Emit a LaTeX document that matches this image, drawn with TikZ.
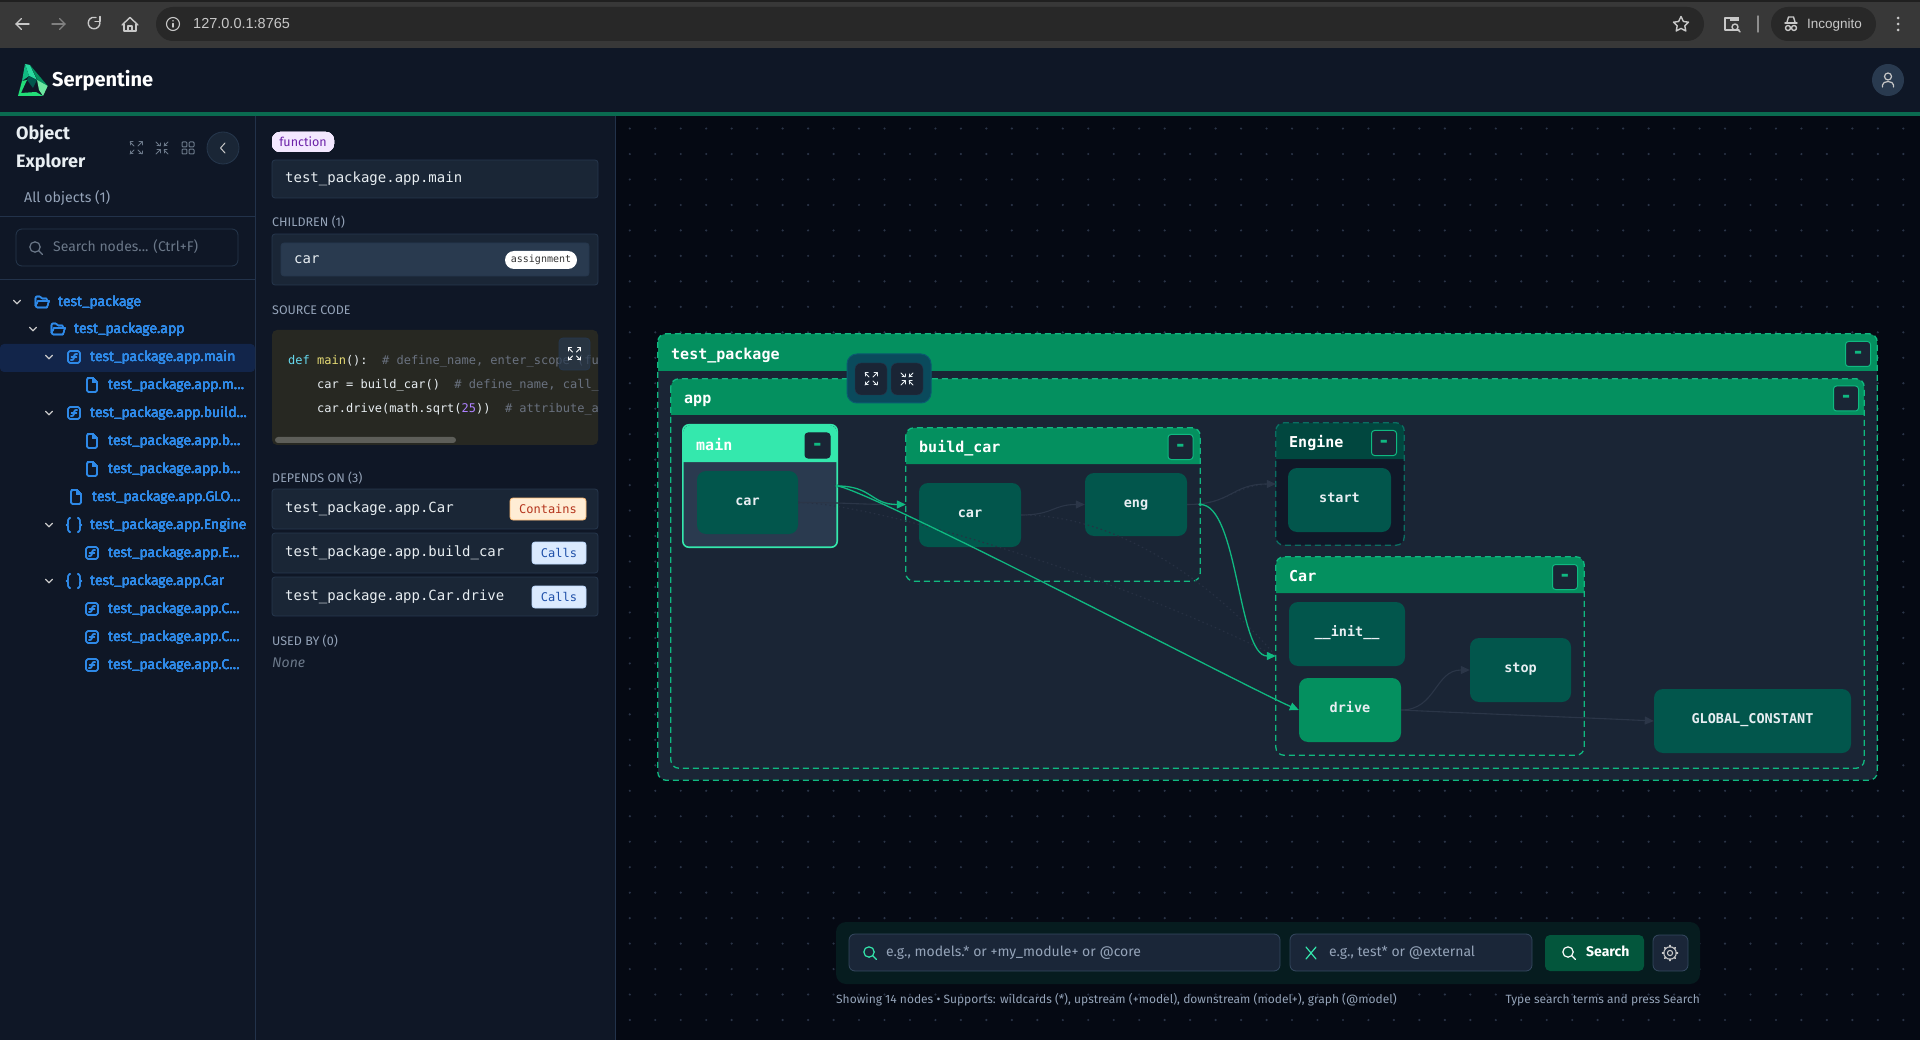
\documentclass[tikz,border=0pt]{standalone}
\usepackage{xcolor}
\usepackage{fontspec}
\usepackage{tikz}
\usetikzlibrary{positioning,calc}
\usetikzlibrary{arrows.meta}
\setmainfont{Fira Sans}
\newfontfamily\chromefont{Liberation Sans}
\newfontfamily\codefont{DejaVu Sans Mono}
\newcommand{\uisize}[1]{\fontsize{#1}{#1}\selectfont}
\definecolor{chromeBar}{HTML}{383838}
\definecolor{chromePill}{HTML}{282828}
\definecolor{chromeInk}{HTML}{C8C8C8}
\definecolor{panelBg}{HTML}{0F1726}
\definecolor{panelLine}{HTML}{22324A}
\definecolor{canvasBg}{HTML}{050913}
\definecolor{canvasDot}{HTML}{2A3447}
\definecolor{strongGreen}{HTML}{0A6B50}
\definecolor{hdrGreen}{HTML}{04905F}
\definecolor{hdrDark}{HTML}{01473F}
\definecolor{hdrLight}{HTML}{34E8AD}
\definecolor{edgeGreen}{HTML}{10B981}
\definecolor{edgeDark}{HTML}{2B3648}
\definecolor{edgeFaint}{HTML}{273143}
\definecolor{edgeDeep}{HTML}{0A6F62}
\definecolor{bodySlate}{HTML}{1A2535}
\definecolor{bodyDeep}{HTML}{101828}
\definecolor{bodyMain}{HTML}{2A3A4F}
\definecolor{leafTeal}{HTML}{02564C}
\definecolor{boxFill}{HTML}{1A2636}
\definecolor{boxLine}{HTML}{26374D}
\definecolor{boxInner}{HTML}{293A4F}
\definecolor{muted}{HTML}{94A3B8}
\definecolor{faint}{HTML}{6B7889}
\definecolor{treeBlue}{HTML}{2F8AE8}
\definecolor{rowSel}{HTML}{12254A}
\definecolor{codeBg}{HTML}{272822}
\definecolor{codeCyan}{HTML}{66D9EF}
\definecolor{codeYellow}{HTML}{E6DB74}
\definecolor{codeGray}{HTML}{6A7280}
\definecolor{codePurple}{HTML}{AE81FF}
\definecolor{inkLight}{HTML}{E8EEF2}
\definecolor{barBg}{HTML}{061C1F}
\definecolor{inputBg}{HTML}{1A2638}
\definecolor{inputLine}{HTML}{354860}
\definecolor{chipPurple}{HTML}{F3E8FF}
\definecolor{inkPurple}{HTML}{6B21A8}
\definecolor{chipOrange}{HTML}{FFEDD5}
\definecolor{lineOrange}{HTML}{FDBA74}
\definecolor{inkOrange}{HTML}{B4341C}
\definecolor{chipBlue}{HTML}{DBEAFE}
\definecolor{lineBlue}{HTML}{BFDBFE}
\definecolor{inkBlue}{HTML}{1E4FA8}
\definecolor{toolTeal}{HTML}{0A4A5C}
\definecolor{toolLine}{HTML}{0B5A70}
\definecolor{searchGreen}{HTML}{03563C}
\definecolor{logoBright}{HTML}{22DD77}
\definecolor{logoLime}{HTML}{6EE7A0}
\tikzstyle{txt}       =[inner sep=0,anchor=base west]
\tikzstyle{uiText}    =[txt,yshift=-5.2pt,text=muted,font=\uisize{14.2}]
\tikzstyle{hintText}  =[txt,yshift=-3.4pt,text=muted,font=\uisize{14}]
\tikzstyle{capsText}  =[txt,yshift=-5.2pt,text=muted,font=\uisize{12.5}]
\tikzstyle{statusText}=[txt,yshift=-3pt,text=muted,font=\uisize{12}]
\tikzstyle{monoText}  =[txt,yshift=-4.6pt,text=inkLight,font=\codefont\uisize{14}]
\tikzstyle{codeText}  =[txt,yshift=-4.1pt,text=inkLight,font=\codefont\uisize{12}]
\tikzstyle{treeText}  =[txt,yshift=-4.7pt,text=treeBlue,font=\uisize{14}]
\tikzstyle{infoBox}   =[fill=boxFill,draw=boxLine,line width=.8pt,rounded corners=3pt]
\tikzstyle{chip}      =[inner sep=0,rounded corners=3pt,font=\codefont\uisize{12},line width=.8pt]
\tikzstyle{leaf}      =[inner sep=0,fill=leafTeal,rounded corners=9pt,text=inkLight,text height=8pt,text depth=3pt,font=\codefont\bfseries\uisize{13.5}]
\tikzstyle{clusterTitle}=[txt,yshift=-6.8pt,text=white,font=\codefont\bfseries\uisize{15}]
\tikzstyle{clusterDash} =[draw=edgeGreen,line width=1.3pt,dash pattern=on 6pt off 4pt,rounded corners=8pt]
\tikzstyle{clusterSolid}=[draw=hdrLight,line width=1.6pt,rounded corners=6pt]
\tikzstyle{clusterDeep} =[draw=edgeDeep,line width=1.3pt,dash pattern=on 6pt off 4pt,rounded corners=8pt]
\tikzstyle{minusBtn}  =[inner sep=0,minimum width=25pt,minimum height=25pt,rounded corners=3pt,fill=bodySlate,draw=edgeGreen,line width=1pt,
                        text=edgeGreen,text height=9pt,text depth=0pt,font=\codefont\bfseries\uisize{20}]
\tikzstyle{edgeOn}    =[draw=edgeGreen,line width=1.3pt,-{Triangle[length=9pt,width=8pt]}]
\tikzstyle{edgeOff}   =[draw=edgeDark,line width=1.1pt,-{Triangle[length=9pt,width=8pt]}]
\tikzstyle{edgeDot}   =[draw=edgeFaint,line width=1.1pt,dash pattern=on 1.5pt off 3pt]
\tikzstyle{icon}      =[line width=1.2pt,line cap=round,line join=round]
\tikzstyle{handleDot} =[circle,fill=edgeGreen,inner sep=0,minimum size=3.6pt]
% Small icons, all centred on the given point
\newcommand{\iconExpand}[3]{\begin{scope}[shift={(#1,#2)},icon,draw=#3,line width=1pt]
  \foreach \sx/\sy in {-1/-1,1/-1,-1/1,1/1} {
    \draw (\sx*2,\sy*2)--(\sx*6,\sy*6);
    \draw (\sx*3,\sy*6)--(\sx*6,\sy*6)--(\sx*6,\sy*3);
  }\end{scope}}
\newcommand{\iconCollapse}[3]{\begin{scope}[shift={(#1,#2)},icon,draw=#3,line width=1pt]
  \foreach \sx/\sy in {-1/-1,1/-1,-1/1,1/1} {
    \draw (\sx*2,\sy*2)--(\sx*6,\sy*6);
    \draw (\sx*5,\sy*2)--(\sx*2,\sy*2)--(\sx*2,\sy*5);
  }\end{scope}}
\newcommand{\iconSearch}[3]{\begin{scope}[shift={(#1,#2)},icon,draw=#3]
  \draw (-1,-1) circle (5.2);
  \draw (2.8,2.8)--(6.5,6.5);\end{scope}}
\newcommand{\iconFolder}[2]{\begin{scope}[shift={(#1,#2)},icon,draw=treeBlue]
  \draw (-5,5.5) -- (-6.5,4) -- (-6.5,-4) -- (-5.5,-5.5) -- (-2,-5.5) -- (0,-3.5) -- (4.5,-3.5) -- (5,-1);
  \draw (-5,5.5) -- (5,5.5) -- (7,-1) -- (-4,-1) -- (-6.5,4);\end{scope}}
\newcommand{\iconFile}[2]{\begin{scope}[shift={(#1,#2)},icon,draw=treeBlue]
  \draw (-1,-7) -- (-4.5,-7) [rounded corners=1.5pt] -- (-5,-7) -- (-5,7) -- (5,7) -- (5,-3) [sharp corners] -- (1,-7) -- (-1,-7);
  \draw (1,-7) -- (1,-3) -- (5,-3);\end{scope}}
\newcommand{\iconFunc}[2]{\begin{scope}[shift={(#1,#2)},icon,draw=treeBlue]
  \draw[rounded corners=2.5pt] (-6,-6) rectangle (6,6);
  \draw (3,-3) .. controls (0.5,-3.5) and (0.2,-2) .. (0,0) .. controls (-0.2,2) and (-0.5,3.5) .. (-3,3);
  \draw (-2.5,0)--(2.5,0);\end{scope}}
\newcommand{\iconBraces}[2]{\begin{scope}[shift={(#1,#2)},icon,draw=treeBlue]
  \draw (-4,-7) .. controls (-6.5,-7) and (-5.5,-3) .. (-6,-1) -- (-7.5,0) -- (-6,1) .. controls (-5.5,3) and (-6.5,7) .. (-4,7);
  \draw (4,-7) .. controls (6.5,-7) and (5.5,-3) .. (6,-1) -- (7.5,0) -- (6,1) .. controls (5.5,3) and (6.5,7) .. (4,7);\end{scope}}
\newcommand{\iconChevron}[2]{\draw[icon,draw=chromeInk] (#1-3.5,#2-1.8)--(#1,#2+1.8)--(#1+3.5,#2-1.8);}
\begin{document}
\begin{tikzpicture}[x=1pt,y=-1pt]
  \useasboundingbox (0,0) rectangle (1920,1040);
  % Page
  \fill[canvasBg] (0,0) rectangle (1920,1040);
  \foreach \i in {0,...,50}
    \foreach \j in {0,...,35}
      \fill[canvasDot] ({629.8+25.47*\i},{1020-25.47*\j}) circle (1.2);
  % Browser bar
  \fill[chromeBar] (0,0) rectangle (1920,48);
  \fill[chromePill!80!black] (0,0) rectangle (1920,2);
  \fill[chromePill,rounded corners=17pt] (156,7) rectangle (1704,41);
  \fill[chromePill,rounded corners=17pt] (1771,7) rectangle (1876,41);
  \begin{scope}[icon,draw=chromeInk,line width=1.4pt]
    \draw (29,24)--(16,24); \draw (21.5,18.5)--(16,24)--(21.5,29.5);
    \draw[draw=chromeInk!50!chromeBar] (52,24)--(65,24); \draw[draw=chromeInk!50!chromeBar] (59.5,18.5)--(65,24)--(59.5,29.5);
    \draw (99.5,21) arc (-20:290:5.8);
    \draw (100,16.5)--(100,21.5)--(95,21.5);
    \draw (124,24)--(124,31)--(136,31)--(136,24); \draw (122,25)--(130,17.5)--(138,25);
    \draw (128,31)--(128,26)--(132,26)--(132,31);
    \draw[line width=1.1pt] (173,24) circle (6.5); \draw (173,23.5)--(173,27); \draw (173,20.8)--(173,20.9);
    \draw (1681,16.5)--(1683.4,21.5)--(1688.5,22.2)--(1684.8,25.8)--(1685.8,31)--(1681,28.4)--(1676.2,31)--(1677.2,25.8)--(1673.5,22.2)--(1678.6,21.5)--cycle;
    \draw (1739,30)--(1725,30)--(1725,18)--(1730,18);
    \fill[chromeInk] (1730,17) rectangle (1739,21);
    \draw (1735,27) circle (3); \draw (1737.5,29.5)--(1740,32);
    \draw[draw=chromeInk!60!chromeBar] (1758,16)--(1758,32);
    \draw (1785,23)--(1797,23); \draw (1787,22)--(1788.5,17)--(1793.5,17)--(1795,22);
    \draw (1788,28) circle (2.5); \draw (1794,28) circle (2.5);
  \end{scope}
  \foreach \ky in {18,24,30}
    \fill[chromeInk] (1898,\ky) circle (1.5);
  \node [txt,yshift=-4.2pt,text=chromeInk,font=\chromefont\uisize{14.5}] (urlText) at (193,24) {127.0.0.1:8765};
  \node [txt,yshift=-3.6pt,text=chromeInk,font=\chromefont\uisize{13.5}] (incognitoText) at (1807,24.5) {Incognito};
  % App header
  \fill[panelBg] (0,48) rectangle (1920,112);
  \fill[strongGreen] (0,112) rectangle (1920,116);
  \fill[hdrLight!70!edgeGreen] (25,64)--(30,65)--(37,80)--(29,76)--cycle;
  \fill[edgeGreen] (25,64)--(29,76)--(22,81)--cycle;
  \fill[leafTeal] (29,76)--(37,80)--(33,88)--(27,80)--cycle;
  \fill[hdrGreen] (30,65)--(47.7,86)--(39,83)--cycle;
  \fill[logoLime] (37,80)--(47.7,86)--(43,96)--(39,90)--cycle;
  \fill[logoBright] (22,81)--(27,80)--(21,93)--(36,92)--(43,96)--(18,96)--cycle;
  \node [txt,yshift=-7pt,text=white,font=\bfseries\uisize{20}] (brandText) at (52,80) {Serpentine};
  \fill[boxInner] (1888,80) circle (16);
  \draw[icon,draw=chromeInk] (1888,76.5) circle (3.5);
  \draw[icon,draw=chromeInk] (1882.5,87) -- (1882.5,85) arc (180:360:5.5 and 3.5) -- (1893.5,87);
  % Left panel
  \fill[panelBg] (0,116) rectangle (255,1040);
  \fill[panelBg] (255,116) rectangle (615,1040);
  \draw[panelLine,line width=.8pt] (255,116)--(255,1040);
  \draw[panelLine,line width=.8pt] (615,116)--(615,1040);
  \draw[panelLine,line width=.8pt] (0,216)--(255,216);
  \draw[panelLine,line width=.8pt] (0,279)--(255,279);
  \node [txt,yshift=-5.9pt,text=inkLight,font=\bfseries\uisize{18}] (objectTitle) at (16,134) {Object};
  \node [txt,yshift=-5.9pt,text=inkLight,font=\bfseries\uisize{18}] (explorerTitle) at (16,162) {Explorer};
  \iconExpand{136}{148}{faint}
  \iconCollapse{162}{148}{faint}
  \foreach \sx in {-1,1}
    \foreach \sy in {-1,1}
      \draw[faint,line width=1pt,rounded corners=.8pt] ({188+\sx*3.6-2.4},{148+\sy*3.6-2.4}) rectangle ++(4.8,4.8);
  \draw[fill=boxFill,draw=boxLine,line width=.8pt] (223,148) circle (16);
  \draw[icon,draw=chromeInk,line width=1pt] (225,143)--(220.5,148)--(225,153);
  \node [uiText] (allObjects) at (24,197) {All objects (1)};
  \draw[infoBox,rounded corners=6pt,fill=panelBg] (16,229) rectangle (238,266);
  \iconSearch{36}{248}{faint}
  \node [hintText,text=faint] (searchHint) at (53,248) {Search nodes... (Ctrl+F)};
  % Tree
  \fill[rowSel,rounded corners=4pt] (0,344) rectangle (255,372);
  \foreach \cx/\cy in {17/302,33/329,49/357,49/413,49/525,49/581}
    \iconChevron{\cx}{\cy}
  \foreach \ry/\ix/\tx/\kind/\lbl in {
      302/42/58/Folder/test\_package,
      329/58/74/Folder/test\_package.app,
      357/74/90/Func/test\_package.app.main,
      385/92/108/File/test\_package.app.m…,
      413/74/90/Func/test\_package.app.build…,
      441/92/108/File/test\_package.app.b…,
      469/92/108/File/test\_package.app.b…,
      497/76/92/File/test\_package.app.GLO…,
      525/74/90/Braces/test\_package.app.Engine,
      553/92/108/Func/test\_package.app.E…,
      581/74/90/Braces/test\_package.app.Car,
      609/92/108/Func/test\_package.app.C…,
      637/92/108/Func/test\_package.app.C…,
      665/92/108/Func/test\_package.app.C…} {
    \csname icon\kind\endcsname{\ix}{\ry}
    \node [treeText] (treeRow\ry) at (\tx,\ry) {\lbl};
  }
  % Details panel
  \node [chip,fill=chipPurple,text=inkPurple,font=\uisize{12.5},rounded corners=8pt,minimum width=62pt,minimum height=20pt] (kindChip) at (303,142) {function};
  \draw[infoBox] (272,160) rectangle (598,198);
  \node [monoText] (selName) at (285,178) {test\_package.app.main};
  \node [capsText] (childrenHead) at (272,221) {CHILDREN (1)};
  \draw[infoBox] (272,234) rectangle (598,285);
  \draw[infoBox,fill=boxInner] (281,243) rectangle (589,276);
  \node [monoText] (childName) at (294,259) {car};
  \node [chip,fill=white,text=black!80,font=\codefont\uisize{10},rounded corners=9pt,minimum width=72pt,minimum height=18pt] (childChip) at (541,260) {assignment};
  \node [capsText] (sourceHead) at (272,309) {SOURCE CODE};
  \fill[codeBg,rounded corners=5pt] (272,330) rectangle (598,445);
  \begin{scope}
    \clip (272,330) rectangle (598,445);
    \node [codeText] (codeLine1) at (288,360) {\textcolor{codeCyan}{def} \textcolor{codeYellow}{main}():\ \ \textcolor{codeGray}{\# define\_name, enter\_scope (function)}};
    \node [codeText] (codeLine2) at (317,384) {car = build\_car()\ \ \textcolor{codeGray}{\# define\_name, call\_expression}};
    \node [codeText] (codeLine3) at (317,408) {car.drive(math.sqrt(\textcolor{codePurple}{25}))\ \ \textcolor{codeGray}{\# attribute\_access}};
  \end{scope}
  \fill[white!25!codeBg,rounded corners=3pt] (275,437) rectangle (456,443);
  \draw[fill=boxInner,fill opacity=.7,draw=boxLine,rounded corners=4pt,line width=.8pt] (559,338) rectangle (590,370);
  \iconExpand{574.5}{354}{white}
  \node [capsText] (dependsHead) at (272,477) {DEPENDS ON (3)};
  \foreach \ya/\yb/\nm/\lbl in {
      489/529/depCar/test\_package.app.Car,
      533/573/depBuild/test\_package.app.build\_car,
      577/616/depDrive/test\_package.app.Car.drive} {
    \draw[infoBox] (272,\ya) rectangle (598,\yb);
    \node [monoText] (\nm) at (285,{(\ya+\yb)/2-1}) {\lbl};
  }
  \node [chip,fill=chipOrange,draw=lineOrange,text=inkOrange,minimum width=76pt,minimum height=22pt] (chipContains) at (548,509) {Contains};
  \node [chip,fill=chipBlue,draw=lineBlue,text=inkBlue,minimum width=54pt,minimum height=22pt] (chipCallsA) at (559,553) {Calls};
  \node [chip,fill=chipBlue,draw=lineBlue,text=inkBlue,minimum width=54pt,minimum height=22pt] (chipCallsB) at (559,597) {Calls};
  \node [capsText] (usedHead) at (272,640) {USED BY (0)};
  \node [capsText,text=faint,font=\itshape\uisize{14}] (usedNone) at (272,662) {None};
  % Clusters
  \foreach \nm/\xa/\ya/\xb/\yb/\yh/\hc/\bc/\es/\title in {
      testPackage/658/334/1877/780/371/hdrGreen/bodySlate/clusterDash/test\_package,
      appBox/671/379/1864/768/415/hdrGreen/bodySlate/clusterDash/app,
      mainBox/683/425/837/547/462/hdrLight/bodyMain/clusterSolid/main,
      buildCar/906/428/1200/581/464/hdrGreen/bodySlate/clusterDash/build\_car,
      engineBox/1276/423/1404/545/459/hdrDark/bodyDeep/clusterDeep/Engine,
      carBox/1276/557/1584/755/593/hdrGreen/bodySlate/clusterDash/Car} {
    \node [inner sep=0,fill=\bc,rounded corners=8pt,minimum width={(\xb-\xa)*1pt},minimum height={(\yb-\ya)*1pt}] (\nm) at ({(\xa+\xb)/2},{(\ya+\yb)/2}) {};
    \fill[\hc] (\xa,\yh) [rounded corners=8pt] -- (\xa,\ya) -- (\xb,\ya) [sharp corners] -- (\xb,\yh) -- cycle;
    \draw[\es] (\nm.north west) rectangle (\nm.south east);
    \node [clusterTitle] (\nm Title) at ({\xa+13},{(\ya+\yh)/2}) {\title};
  }
  % Collapse buttons
  \foreach \nm/\bx/\by in {testPackageBtn/1858/354,appBtn/1846/398.5,buildBtn/1180.5/447,engineBtn/1384/443,carBtn/1565/577}
    \node [minusBtn] (\nm) at (\bx,\by) {-};
  \node [minusBtn,draw=bodySlate] (mainBtn) at (817.5,445.5) {-};
  % Leaves
  \foreach \nm/\xa/\ya/\xb/\yb/\lbl in {
      mainCar/697/471/798/534/car,
      buildCarCar/919/483/1021/547/car,
      engNode/1085/473/1187/536/eng,
      startNode/1288/468/1391/532/start,
      initNode/1289/602/1405/666/\_\_init\_\_,
      stopNode/1470/638/1571/702/stop,
      globalNode/1654/689/1851/753/GLOBAL\_CONSTANT} {
    \node [leaf,minimum width={(\xb-\xa)*1pt},minimum height={(\yb-\ya)*1pt}] (\nm) at ({(\xa+\xb)/2},{(\ya+\yb)/2}) {\lbl};
  }
  \node [leaf,fill=hdrGreen,minimum width=102pt,minimum height=64pt] (driveNode) at (1350,710) {drive};
  % Faded edges
  \draw[edgeDot] (mainCar.east) .. controls +(70,0) and +(-170,-85) .. (carBox.west);
  \draw[edgeDot] (buildCarCar.east) .. controls +(100,0) and +(-60,-70) .. (carBox.west);
  \draw[edgeDot] (engNode.east) .. controls +(45,0) and +(-45,0) .. (engineBox.west);
  \draw[edgeOff] (mainCar.east) .. controls +(50,0) and +(-50,0) .. (buildCar.west);
  \draw[edgeOff] (buildCarCar.east) .. controls +(32,0) and +(-32,0) .. (engNode.west);
  \draw[edgeOff] (engNode.east) .. controls +(45,0) and +(-45,0) .. (engineBox.west);
  \draw[edgeOff] (driveNode.east) .. controls +(35,0) and +(-35,0) .. (stopNode.west);
  \draw[edgeOff] (driveNode.east) .. controls +(60,3) and +(-60,-3) .. (globalNode.west);
  % Active edges
  \draw[edgeOn] (mainBox.east) .. controls +(35,0) and +(-35,0) .. (buildCar.west);
  \draw[edgeOn] (mainBox.east) .. controls +(33,4) and +(-49,-21) .. (driveNode.west);
  \draw[edgeOn] (buildCar.east) .. controls +(38,0) and +(-38,0) .. (carBox.west);
  \node [handleDot] (mainHandle) at (mainBox.east) {};
  \node [handleDot] (buildHandle) at (buildCar.east) {};
  % Floating toolbar
  \draw[fill=toolTeal,draw=toolLine,line width=1pt,rounded corners=10pt] (847,354) rectangle (931,403);
  \draw[fill=bodySlate,draw=boxLine,rounded corners=6pt] (855,363) rectangle (887,395);
  \draw[fill=bodySlate,draw=boxLine,rounded corners=6pt] (891,363) rectangle (923,395);
  \iconExpand{871}{379}{inkLight}
  \iconCollapse{907}{379}{inkLight}
  % Search bar
  \fill[barBg,rounded corners=10pt] (836,922) rectangle (1700,984);
  \draw[fill=inputBg,draw=inputLine,line width=.8pt,rounded corners=6pt] (849,934) rectangle (1280,971);
  \draw[fill=inputBg,draw=inputLine,line width=.8pt,rounded corners=6pt] (1290,934) rectangle (1532,971);
  \iconSearch{870}{953}{hdrLight}
  \draw[icon,draw=hdrLight] (1306,947)--(1316,959);
  \draw[icon,draw=hdrLight] (1316,947)--(1306,959);
  \node [hintText] (includeHint) at (886,953) {e.g., models.* or +my\_module+ or @core};
  \node [hintText] (excludeHint) at (1329,953) {e.g., test* or @external};
  \fill[searchGreen,rounded corners=5pt] (1545,935) rectangle (1644,971);
  \iconSearch{1569}{953}{white}
  \node [hintText,text=white,font=\bfseries\uisize{14}] (searchLabel) at (1586,953) {Search};
  \draw[fill=inputBg,draw=inputLine,line width=.8pt,rounded corners=6pt] (1653,935) rectangle (1688,971);
  \draw[icon,draw=chromeInk,line width=1.1pt] (1670,953) circle (2.6);
  \draw[icon,draw=chromeInk,line width=1.1pt] (1670,953) circle (6.2);
  \foreach \gr in {0,45,...,315}
    \draw[icon,draw=chromeInk,line width=1.6pt] ($(1670,953)+(\gr:6.2)$)--($(1670,953)+(\gr:7.6)$);
  \node [statusText] (statusLeft) at (836,1000) {Showing 14 nodes • Supports: wildcards (*), upstream (+model), downstream (model+), graph (@model)};
  \node [statusText,anchor=base east] (statusRight) at (1700,1000) {Type search terms and press Search};
\end{tikzpicture}
\end{document}
